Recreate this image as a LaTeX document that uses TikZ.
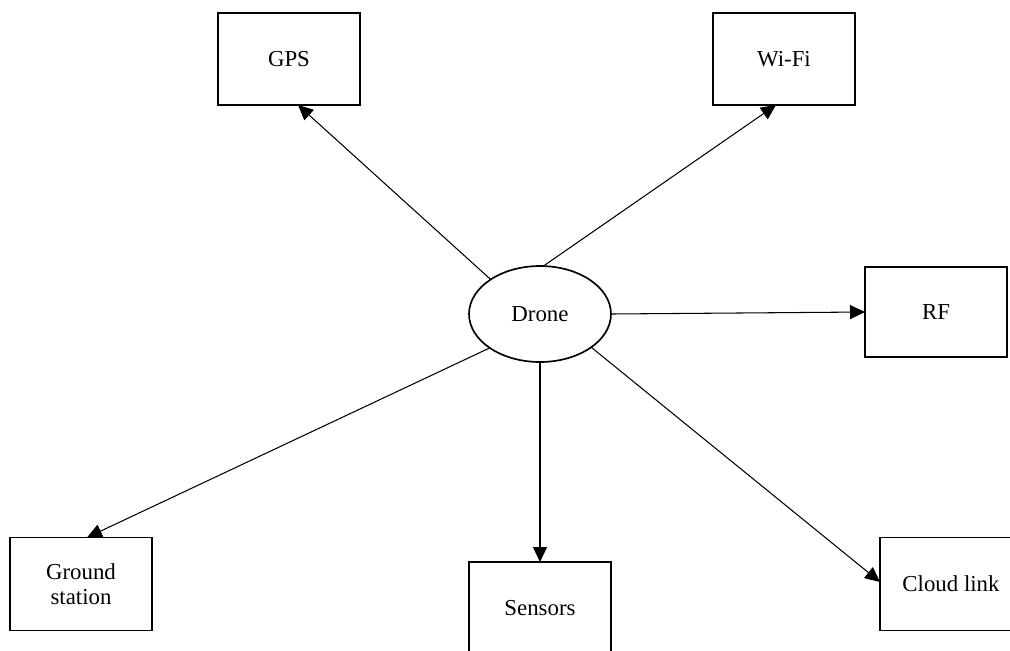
\documentclass[tikz,border=0pt]{standalone}
\usepackage{fontspec}
\setmainfont{Liberation Serif}
\usetikzlibrary{arrows.meta,shapes.geometric,calc}
\begin{document}
\begin{tikzpicture}[x=0.02cm,y=-0.02cm,
  every node/.style={font=\fontsize{13}{14.6}\selectfont},
  box/.style={draw,line width=0.95pt,minimum width=2.84cm,minimum height=1.84cm,inner sep=0pt,outer sep=0pt,align=center},
  hub/.style={draw,ellipse,line width=0.95pt,minimum width=2.84cm,minimum height=1.92cm,inner sep=0pt,outer sep=0pt},
  link/.style={line width=0.6pt,-{Triangle[length=0.3cm,width=0.28cm]}}]
\useasboundingbox (0,0) rectangle (1010,650);
\node[hub] (drone) at (540,314) {Drone};
\node[box] (gps) at (289,59) {GPS};
\node[box] (wifi) at (784,59) {Wi-Fi};
\node[box,minimum height=1.8cm] (rf) at (936,312) {RF};
\node[box,minimum height=1.86cm] (ground) at (81,584) {Ground\\station};
\node[box] (sensors) at (540,608) {Sensors};
\node[box,minimum height=1.86cm] (cloud) at (951,584) {Cloud link};
\draw[link] (drone.145) -- ($(gps.south)+(9,0)$);
\draw[link] (drone.86) -- ($(wifi.south)+(-8,0)$);
\draw[link] (drone.0) -- (rf.west);
\draw[link] (drone.214) -- ($(ground.north)+(6,0)$);
\draw[link] (drone.south) -- (sensors.north);
\draw[link] (drone.327) -- ($(cloud.west)+(0,-2)$);
\end{tikzpicture}
\end{document}
